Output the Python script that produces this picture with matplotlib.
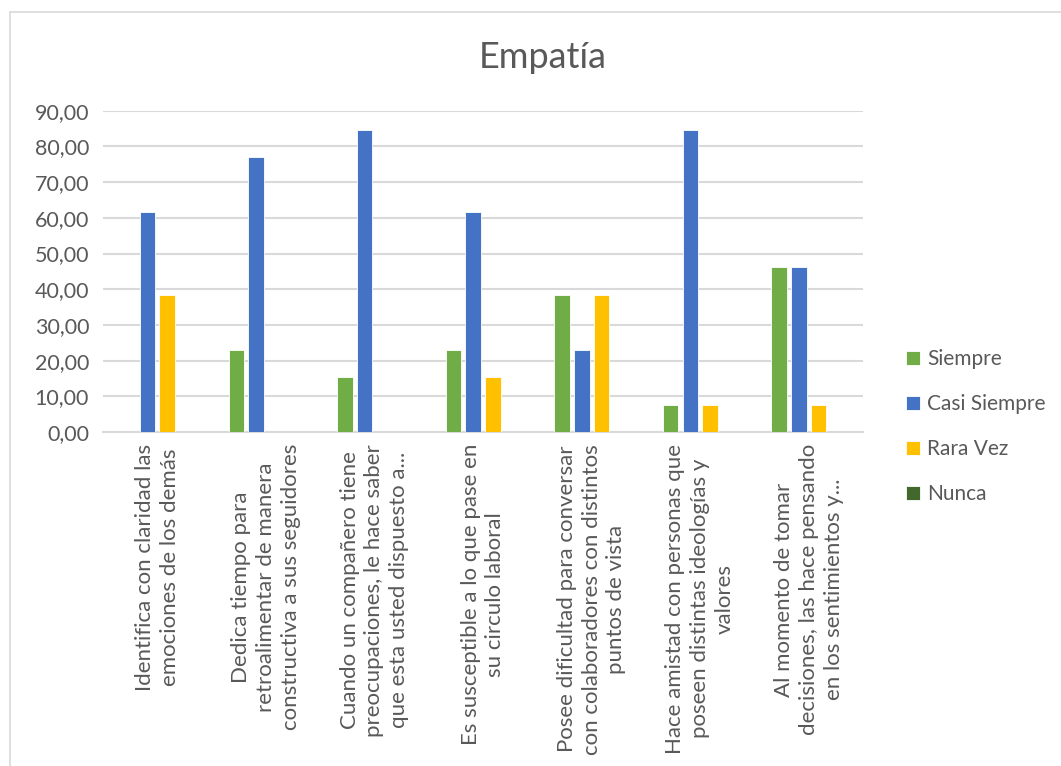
import matplotlib.pyplot as plt
from matplotlib.patches import Rectangle
from matplotlib.ticker import FuncFormatter
import numpy as np

plt.rcParams['font.family'] = ['Lato', 'DejaVu Sans']

categorias = [
    "Identifica con claridad las\nemociones de los demás",
    "Dedica tiempo para\nretroalimentar de manera\nconstructiva a sus seguidores",
    "Cuando un compañero tiene\npreocupaciones, le hace saber\nque esta usted dispuesto a...",
    "Es susceptible a lo que pase en\nsu circulo laboral",
    "Posee dificultad para conversar\ncon colaboradores con distintos\npuntos de vista",
    "Hace amistad con personas que\nposeen distintas ideologías y\nvalores",
    "Al momento de tomar\ndecisiones, las hace pensando\nen los sentimientos y...",
]
siempre = [0, 23.08, 15.38, 23.08, 38.46, 7.69, 46.15]
casi_siempre = [61.54, 76.92, 84.62, 61.54, 23.08, 84.62, 46.15]
rara_vez = [38.46, 0, 0, 15.38, 38.46, 7.69, 7.69]
nunca = [0, 0, 0, 0, 0, 0, 0]

series = ["Siempre", "Casi Siempre", "Rara Vez", "Nunca"]
colores = ["#70ad47", "#4472c4", "#ffc000", "#43682b"]
texto = "#595959"

fig = plt.figure(figsize=(10.61, 7.66), dpi=100)
ax = fig.add_axes([103 / 1061, 1 - 432 / 766, 760 / 1061, 321.3 / 766])

# borde del área del gráfico
fig.patches.append(Rectangle((10 / 1061, -0.05), 1.1, 1 - 12 / 766 + 0.05,
                             transform=fig.transFigure, fill=False,
                             edgecolor="#d9d9d9", linewidth=1.2, zorder=0))

x = np.arange(len(categorias))
paso = 0.181
ancho = 0.143
for i, (nombre, valores) in enumerate(zip(series, [siempre, casi_siempre, rara_vez, nunca])):
    ax.bar(x + (i - 1.5) * paso, valores, width=ancho, color=colores[i],
           edgecolor="white", linewidth=0.6, label=nombre, zorder=3)

ax.set_xlim(-0.5, len(categorias) - 0.5)
ax.set_ylim(0, 90)
ax.set_yticks(range(0, 91, 10))
ax.yaxis.set_major_formatter(FuncFormatter(lambda v, p: f"{v:.2f}".replace(".", ",")))
ax.grid(axis="y", color="#d9d9d9", linewidth=1.5, zorder=0)
ax.set_axisbelow(True)
for s in ["top", "right", "left"]:
    ax.spines[s].set_visible(False)
ax.spines["bottom"].set_color("#d9d9d9")
ax.spines["bottom"].set_linewidth(1.5)
ax.tick_params(axis="y", length=0, labelsize=15.5, labelcolor=texto, pad=10)
ax.tick_params(axis="x", length=0)
ax.set_xticks(x)
ax.set_xticklabels([])

for xi, etiqueta in zip(x, categorias):
    ax.text(xi, -3.3, etiqueta, rotation=90, ha="center", va="top",
            multialignment="center", fontsize=16, color=texto,
            linespacing=1.3)

fig.text(543 / 1061, 1 - 57 / 766, "Empatía", ha="center", va="center",
         fontsize=26, color=texto)

fig.legend(loc="center left", bbox_to_anchor=(896 / 1061, 1 - 427 / 766),
           frameon=False, fontsize=15, labelcolor=texto, handlelength=0.65,
           handleheight=0.65, handletextpad=0.35, labelspacing=1.2, borderpad=0)

fig.savefig("out.png", dpi=100)
